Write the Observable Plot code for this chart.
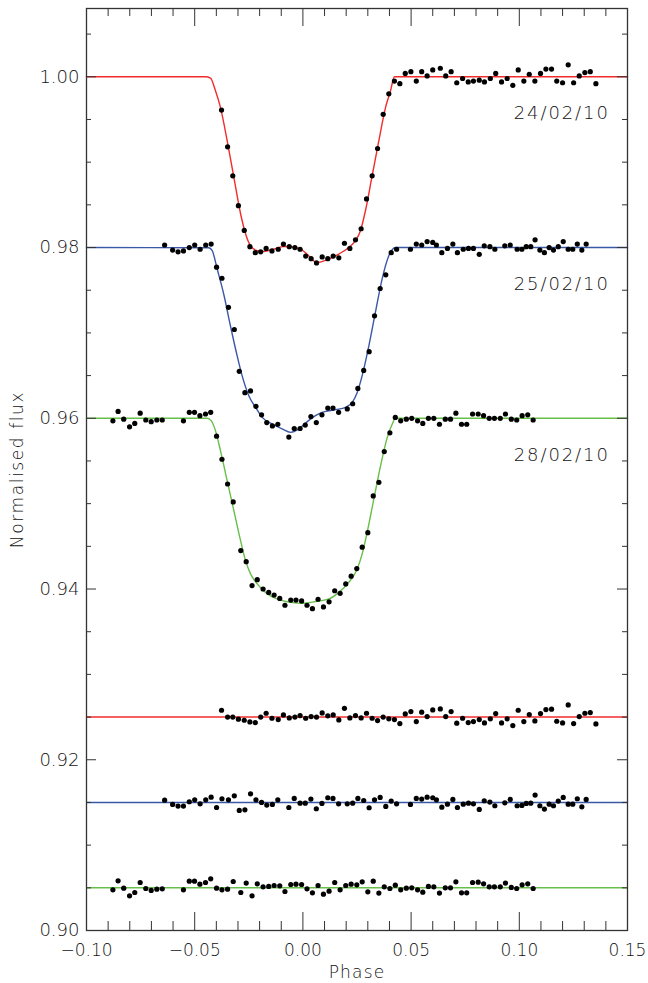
<!DOCTYPE html>
<html><head><meta charset="utf-8">
<script src="https://cdn.jsdelivr.net/npm/d3@7"></script>
<script src="https://cdn.jsdelivr.net/npm/@observablehq/plot@0.6"></script>
<style>
body{margin:0;background:#fff;}
</style>
</head><body><div id="chart"></div>
<script>
// ---- data ----
const seriesLabels = ["24/02/10", "25/02/10", "28/02/10"];
const labelPhase = [0.1418, 0.1418, 0.1418];
const labelFlux = [0.9957, 0.9757, 0.9557];

const xMajor = [-0.10, -0.05, 0.00, 0.05, 0.10, 0.15];
const xMinor = [-0.09,-0.08,-0.07,-0.06,-0.04,-0.03,-0.02,-0.01,0.01,0.02,0.03,0.04,0.06,0.07,0.08,0.09,0.11,0.12,0.13,0.14];
const yMajor = [0.90, 0.92, 0.94, 0.96, 0.98, 1.00];
const yMinor = [0.905,0.910,0.915,0.925,0.930,0.935,0.945,0.950,0.955,0.965,0.970,0.975,0.985,0.990,0.995,1.005];

const residBase = [0.925, 0.915, 0.905];

const redPhase = [-0.0376,-0.0348,-0.0324,-0.0298,-0.0271,-0.0245,-0.0220,-0.0195,-0.0170,-0.0143,
-0.0114,-0.0090,-0.0063,-0.0037,-0.0013,0.0013,0.0038,0.0063,0.0089,0.0115,
0.0140,0.0166,0.0192,0.0217,0.0243,0.0269,0.0294,0.0320,0.0345,0.0371,
0.0397,0.0423,0.0448,0.0473,0.0499,0.0524,0.0549,0.0574,0.0600,0.0635,
0.0660,0.0685,0.0711,0.0738,0.0764,0.0788,0.0815,0.0839,0.0866,0.0891,
0.0918,0.0944,0.0970,0.0995,0.1021,0.1046,0.1072,0.1098,0.1123,0.1149,
0.1173,0.1200,0.1226,0.1251,0.1277,0.1303,0.1328,0.1354];
const redFlux = [0.9961,0.9918,0.9884,0.9849,0.9820,0.9801,0.9794,0.9795,0.9799,0.9796,
0.9798,0.9804,0.9801,0.9800,0.9798,0.9790,0.9787,0.9782,0.9789,0.9787,
0.9790,0.9788,0.9805,0.9799,0.9809,0.9822,0.9857,0.9884,0.9916,0.9956,
0.9980,0.9995,0.9992,1.0004,1.0006,0.9995,1.0006,1.0001,1.0008,1.0010,
1.0001,1.0006,0.9993,0.9998,0.9994,0.9995,0.9996,0.9994,0.9998,1.0004,
0.9994,0.9998,0.9990,1.0008,0.9995,1.0003,0.9995,1.0004,1.0009,1.0009,
0.9995,0.9993,1.0014,0.9993,1.0001,1.0005,1.0006,0.9992];
const redResid = [0.92580,0.92500,0.92500,0.92475,0.92463,0.92443,0.92436,0.92500,0.92545,0.92486,
0.92471,0.92525,0.92490,0.92500,0.92518,0.92486,0.92506,0.92500,0.92549,0.92515,
0.92525,0.92467,0.92603,0.92490,0.92518,0.92490,0.92545,0.92486,0.92459,0.92500,
0.92479,0.92471,0.92424,0.92537,0.92564,0.92447,0.92557,0.92506,0.92584,0.92596,
0.92506,0.92564,0.92428,0.92486,0.92436,0.92447,0.92471,0.92432,0.92479,0.92541,
0.92432,0.92479,0.92400,0.92580,0.92447,0.92529,0.92455,0.92541,0.92588,0.92592,
0.92451,0.92432,0.92642,0.92424,0.92506,0.92545,0.92553,0.92420];

const bluePhase = [-0.0639,-0.0602,-0.0577,-0.0552,-0.0525,-0.0500,-0.0475,-0.0449,-0.0424,-0.0399,
-0.0374,-0.0344,-0.0317,-0.0294,-0.0268,-0.0242,-0.0217,-0.0191,-0.0167,-0.0141,
-0.0116,-0.0065,-0.0040,-0.0013,0.0011,0.0037,0.0062,0.0088,0.0115,0.0139,
0.0165,0.0205,0.0230,0.0254,0.0281,0.0306,0.0331,0.0357,0.0383,0.0408,
0.0433,0.0497,0.0524,0.0549,0.0574,0.0600,0.0617,0.0642,0.0668,0.0693,
0.0714,0.0741,0.0765,0.0788,0.0815,0.0838,0.0864,0.0887,0.0933,0.0958,
0.0990,0.1012,0.1032,0.1053,0.1073,0.1095,0.1116,0.1138,0.1158,0.1180,
0.1203,0.1226,0.1247,0.1268,0.1289,0.1309];
const blueFlux = [0.9803,0.9797,0.9795,0.9796,0.9800,0.9803,0.9798,0.9803,0.9804,0.9777,
0.9764,0.9730,0.9704,0.9655,0.9630,0.9632,0.9614,0.9604,0.9595,0.9591,
0.9593,0.9578,0.9588,0.9588,0.9592,0.9602,0.9595,0.9604,0.9612,0.9612,
0.9607,0.9611,0.9617,0.9635,0.9656,0.9678,0.9720,0.9752,0.9768,0.9794,
0.9798,0.9798,0.9804,0.9803,0.9807,0.9806,0.9803,0.9794,0.9799,0.9804,
0.9794,0.9798,0.9799,0.9799,0.9792,0.9802,0.9801,0.9798,0.9802,0.9803,
0.9798,0.9798,0.9801,0.9801,0.9809,0.9797,0.9794,0.9800,0.9797,0.9801,
0.9807,0.9798,0.9798,0.9804,0.9797,0.9804];
const blueResid = [0.91527,0.91477,0.91457,0.91457,0.91508,0.91531,0.91484,0.91531,0.91562,0.91441,
0.91543,0.91531,0.91578,0.91406,0.91414,0.91601,0.91531,0.91500,0.91469,0.91477,
0.91531,0.91441,0.91547,0.91492,0.91492,0.91539,0.91426,0.91488,0.91555,0.91547,
0.91484,0.91484,0.91492,0.91547,0.91523,0.91438,0.91531,0.91559,0.91453,0.91516,
0.91484,0.91477,0.91547,0.91539,0.91562,0.91555,0.91531,0.91445,0.91480,0.91535,
0.91441,0.91480,0.91492,0.91484,0.91418,0.91520,0.91504,0.91461,0.91496,0.91535,
0.91461,0.91465,0.91488,0.91492,0.91586,0.91461,0.91422,0.91480,0.91461,0.91516,
0.91559,0.91480,0.91480,0.91543,0.91449,0.91535];

const greenPhase = [-0.0878,-0.0854,-0.0828,-0.0801,-0.0777,-0.0752,-0.0726,-0.0701,-0.0675,-0.0650,
-0.0552,-0.0525,-0.0501,-0.0476,-0.0450,-0.0426,-0.0399,-0.0374,-0.0348,-0.0322,
-0.0287,-0.0262,-0.0235,-0.0211,-0.0184,-0.0158,-0.0133,-0.0107,-0.0083,-0.0056,
-0.0032,-0.0006,0.0019,0.0044,0.0070,0.0095,0.0121,0.0147,0.0172,0.0198,
0.0223,0.0249,0.0274,0.0300,0.0325,0.0351,0.0376,0.0402,0.0427,0.0452,
0.0478,0.0503,0.0530,0.0554,0.0580,0.0605,0.0631,0.0658,0.0682,0.0707,
0.0733,0.0757,0.0784,0.0810,0.0835,0.0861,0.0885,0.0912,0.0936,0.0963,
0.0988,0.1013,0.1039,0.1064];
const greenFlux = [0.9597,0.9608,0.9599,0.9590,0.9594,0.9606,0.9598,0.9596,0.9598,0.9598,
0.9597,0.9607,0.9607,0.9603,0.9605,0.9607,0.9579,0.9552,0.9523,0.9502,
0.9445,0.9432,0.9404,0.9411,0.9400,0.9396,0.9393,0.9389,0.9381,0.9387,
0.9387,0.9386,0.9381,0.9377,0.9388,0.9379,0.9385,0.9398,0.9395,0.9406,
0.9415,0.9424,0.9449,0.9466,0.9509,0.9525,0.9561,0.9583,0.9601,0.9597,
0.9599,0.9600,0.9597,0.9594,0.9600,0.9600,0.9593,0.9599,0.9599,0.9606,
0.9593,0.9593,0.9605,0.9605,0.9603,0.9600,0.9600,0.9600,0.9605,0.9599,
0.9598,0.9603,0.9604,0.9598];
const greenResid = [0.90477,0.90582,0.90496,0.90406,0.90445,0.90562,0.90492,0.90469,0.90484,0.90488,
0.90477,0.90578,0.90578,0.90543,0.90562,0.90605,0.90496,0.90477,0.90484,0.90574,
0.90445,0.90555,0.90406,0.90547,0.90512,0.90516,0.90527,0.90523,0.90457,0.90539,
0.90543,0.90539,0.90488,0.90441,0.90527,0.90426,0.90461,0.90562,0.90477,0.90527,
0.90543,0.90535,0.90570,0.90453,0.90578,0.90438,0.90512,0.90492,0.90531,0.90477,
0.90496,0.90500,0.90477,0.90449,0.90516,0.90512,0.90438,0.90500,0.90500,0.90570,
0.90441,0.90441,0.90562,0.90566,0.90547,0.90512,0.90512,0.90512,0.90555,0.90504,
0.90492,0.90535,0.90547,0.90492];

// model fits
const redModelPhase = [-0.1000,-0.0450,-0.0427,-0.0404,-0.0381,-0.0350,-0.0319,-0.0288,-0.0265,-0.0242,-0.0211,-0.0181,-0.0134,-0.0088,-0.0057,-0.0011,0.0035,0.0063,0.0120,0.0166,0.0212,0.0243,0.0266,0.0289,0.0320,0.0351,0.0382,0.0405,0.0423,0.1500];
const redModelFlux = [1.0,1.0,0.99985,0.99836,0.99641,0.99251,0.98821,0.98396,0.98162,0.98021,0.97963,0.97954,0.97982,0.98013,0.98009,0.97982,0.97884,0.97822,0.97865,0.97924,0.98001,0.98080,0.98197,0.98431,0.98841,0.99251,0.99641,0.99836,1.0,1.0];
const blueModelPhase = [-0.1000,-0.0435,-0.0419,-0.0396,-0.0366,-0.0335,-0.0304,-0.0281,-0.0250,-0.0219,-0.0188,-0.0142,-0.0096,-0.0057,-0.0019,0.0012,0.0058,0.0089,0.0151,0.0197,0.0228,0.0251,0.0274,0.0305,0.0335,0.0366,0.0397,0.0428,0.1500];
const blueModelFlux = [0.98,0.97998,0.97963,0.97748,0.97456,0.97084,0.96733,0.96499,0.96265,0.96128,0.96011,0.95933,0.95875,0.95835,0.95875,0.95943,0.96030,0.96069,0.96101,0.96128,0.96186,0.96303,0.96499,0.96850,0.97240,0.97631,0.97904,0.98,0.98];
const greenModelPhase = [-0.1000,-0.0442,-0.0424,-0.0404,-0.0381,-0.0350,-0.0319,-0.0288,-0.0265,-0.0242,-0.0211,-0.0165,-0.0119,-0.0057,0.0004,0.0066,0.0120,0.0166,0.0212,0.0251,0.0274,0.0297,0.0328,0.0359,0.0390,0.0413,0.0428,0.1500];
const greenModelFlux = [0.96,0.96,0.95972,0.95855,0.95621,0.95269,0.94918,0.94567,0.94333,0.94177,0.94060,0.93943,0.93884,0.93844,0.93833,0.93856,0.93884,0.93961,0.94078,0.94235,0.94411,0.94664,0.95055,0.95445,0.95776,0.95933,0.96,0.96];

// ---- build ----
const rows = (ph, fl) => ph.map((p, i) => ({phase: p, flux: fl[i]}));
const colors = ["#f22b2b", "#3a58a8", "#66bf48"];
const seriesData = [
  {data: rows(redPhase, redFlux), resid: rows(redPhase, redResid), model: rows(redModelPhase, redModelFlux)},
  {data: rows(bluePhase, blueFlux), resid: rows(bluePhase, blueResid), model: rows(blueModelPhase, blueModelFlux)},
  {data: rows(greenPhase, greenFlux), resid: rows(greenPhase, greenResid), model: rows(greenModelPhase, greenModelFlux)}
];
const labels = seriesLabels.map((t, i) => ({text: t, phase: labelPhase[i], flux: labelFlux[i]}));

const W = 648, H = 983, mL = 86, mR = 21, mT = 8, mB = 53;
const pw = W - mL - mR, ph = H - mT - mB;
const tickColor = "#333";
const textColor = "#111";
const font = "DejaVu Sans";

const marks = [];
seriesData.forEach((s, i) => {
  marks.push(Plot.ruleY([residBase[i]], {stroke: colors[i], strokeWidth: 1.4}));
  marks.push(Plot.line(s.model, {x: "phase", y: "flux", stroke: colors[i], strokeWidth: 1.4, curve: "monotone-x"}));
});
seriesData.forEach((s) => {
  marks.push(Plot.dot(s.data, {x: "phase", y: "flux", r: 2.6, fill: "black", stroke: "none"}));
  marks.push(Plot.dot(s.resid, {x: "phase", y: "flux", r: 2.6, fill: "black", stroke: "none"}));
});
// ticks on all four sides, pointing inward
marks.push(
  Plot.ruleX(xMajor, {stroke: tickColor, strokeWidth: 1, insetTop: ph - 18}),
  Plot.ruleX(xMinor, {stroke: tickColor, strokeWidth: 1, insetTop: ph - 9}),
  Plot.ruleX(xMajor, {stroke: tickColor, strokeWidth: 1, insetBottom: ph - 18}),
  Plot.ruleX(xMinor, {stroke: tickColor, strokeWidth: 1, insetBottom: ph - 8}),
  Plot.ruleY(yMajor, {stroke: tickColor, strokeWidth: 1, insetRight: pw - 10}),
  Plot.ruleY(yMinor, {stroke: tickColor, strokeWidth: 1, insetRight: pw - 5}),
  Plot.ruleY(yMajor, {stroke: tickColor, strokeWidth: 1, insetLeft: pw - 10}),
  Plot.ruleY(yMinor, {stroke: tickColor, strokeWidth: 1, insetLeft: pw - 5})
);
marks.push(
  Plot.axisX(xMajor, {tickSize: 0, tickPadding: 13, tickFormat: d3.format(".2f"), fontSize: 17, label: null, fill: textColor}),
  Plot.axisY(yMajor, {tickSize: 0, tickPadding: 7, tickFormat: d3.format(".2f"), fontSize: 18, label: null, fill: textColor}),
  Plot.text(labels, {x: "phase", y: "flux", text: "text", textAnchor: "end", lineAnchor: "middle", fontSize: 18, fill: textColor}),
  Plot.text(["Phase"], {frameAnchor: "bottom", dy: 42, lineAnchor: "middle", fontSize: 17, fill: textColor}),
  Plot.text(["Normalised flux"], {frameAnchor: "left", dx: -69, rotate: -90, textAnchor: "middle", lineAnchor: "middle", fontSize: 17, fill: textColor}),
  Plot.frame({stroke: "#333", strokeWidth: 1.3})
);

const chart = Plot.plot({
  width: W, height: H,
  marginLeft: mL, marginRight: mR, marginTop: mT, marginBottom: mB,
  style: {fontFamily: font, fontWeight: 300, background: "white", color: "#222", overflow: "visible"},
  x: {domain: [-0.10, 0.15]},
  y: {domain: [0.90, 1.008]},
  marks
});
// letter spacing to mimic the wide plotting font
d3.select(chart).selectAll("text").each(function() {
  const t = this.textContent;
  if (seriesLabels.includes(t)) this.style.letterSpacing = "1.9px";
  else if (t === "Normalised flux") this.style.letterSpacing = "1.6px";
  else if (t === "Phase") this.style.letterSpacing = "1.2px";
});
document.getElementById("chart").appendChild(chart);
</script>
</body></html>
